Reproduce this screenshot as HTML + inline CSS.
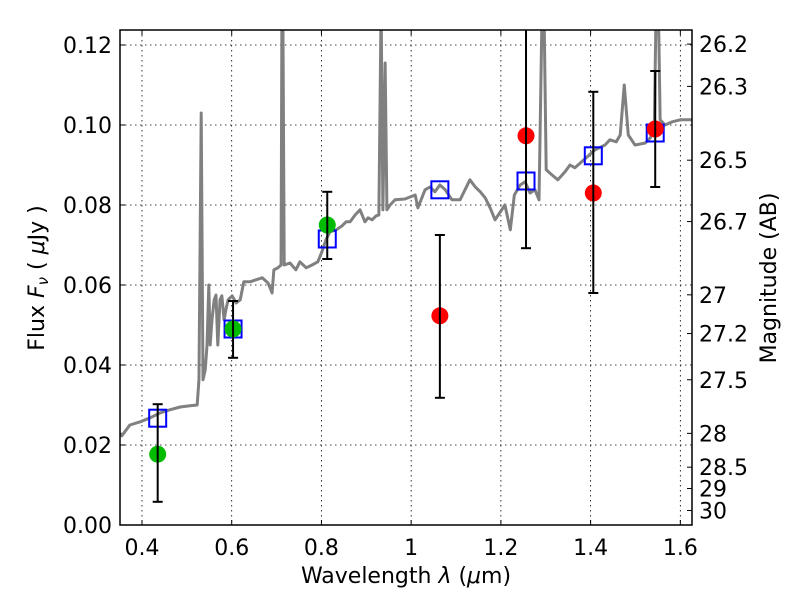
<!DOCTYPE html>
<html><head><meta charset="utf-8"><style>
body{margin:0;background:#fff;}
svg{display:block;font-family:"DejaVu Sans","Liberation Sans",sans-serif;}
</style></head><body>
<svg id="chart" width="800" height="600" viewBox="0 0 800 600">
<defs><clipPath id="clip"><rect x="120" y="30" width="572" height="495"/></clipPath></defs>
<rect x="0" y="0" width="800" height="600" fill="#fff"/>
<g id="grid"></g>
<g id="spec" clip-path="url(#clip)"></g>
<g id="marks" clip-path="url(#clip)"></g>
<rect x="120" y="30" width="572" height="495" fill="none" stroke="#000" stroke-width="1.5"/>
<g id="axes"></g>
<text x="406" y="583" font-size="22" text-anchor="middle">Wavelength  <tspan font-style="italic">λ</tspan> (<tspan font-style="italic">μ</tspan>m)</text>
<text transform="translate(44,278) rotate(-90)" font-size="22" text-anchor="middle">Flux  <tspan font-style="italic">F</tspan><tspan font-style="italic" font-size="15" dy="4">ν</tspan><tspan dy="-4">  ( </tspan><tspan font-style="italic">μ</tspan>Jy )</text>
<text transform="translate(776,278) rotate(-90)" font-size="22" text-anchor="middle">Magnitude (AB)</text>
</svg>
<script>
const specLam=[0.351,0.355,0.373,0.396,0.418,0.440,0.462,0.485,0.507,0.523,0.527,0.532,0.536,0.541,0.545,0.549,0.552,0.556,0.561,0.565,0.569,0.574,0.578,0.583,0.587,0.592,0.601,0.610,0.619,0.627,0.641,0.654,0.668,0.681,0.690,0.694,0.703,0.710,0.712,0.714,0.717,0.730,0.743,0.752,0.766,0.779,0.792,0.801,0.810,0.819,0.833,0.846,0.855,0.864,0.875,0.886,0.897,0.904,0.913,0.922,0.928,0.933,0.937,0.942,0.946,0.953,0.964,0.986,1.009,1.015,1.031,1.042,1.053,1.064,1.076,1.091,1.109,1.120,1.131,1.143,1.154,1.165,1.176,1.187,1.209,1.221,1.230,1.243,1.254,1.265,1.276,1.285,1.292,1.296,1.301,1.314,1.327,1.343,1.354,1.365,1.392,1.410,1.432,1.443,1.457,1.466,1.475,1.484,1.499,1.522,1.533,1.542,1.546,1.551,1.555,1.566,1.582,1.600,1.626];
const specFlux=[0.023,0.0223,0.025,0.0258,0.0268,0.028,0.0288,0.0295,0.0298,0.030,0.0363,0.103,0.0363,0.0388,0.045,0.060,0.045,0.0513,0.0563,0.0575,0.045,0.0563,0.0573,0.0513,0.0538,0.0563,0.0573,0.0555,0.0563,0.0608,0.0608,0.0613,0.0618,0.0605,0.058,0.0638,0.0643,0.065,0.13,0.13,0.065,0.0655,0.0638,0.0658,0.0643,0.065,0.0658,0.0683,0.0713,0.0733,0.0738,0.0748,0.0758,0.0758,0.0775,0.0788,0.0758,0.0768,0.0763,0.0773,0.0775,0.13,0.0788,0.1155,0.0788,0.080,0.0813,0.0815,0.0825,0.0793,0.0838,0.0845,0.0833,0.085,0.0838,0.0813,0.0813,0.0838,0.0863,0.0845,0.0833,0.0818,0.0793,0.0763,0.080,0.0738,0.0825,0.085,0.0858,0.083,0.0838,0.0813,0.13,0.13,0.0888,0.0875,0.0863,0.0883,0.090,0.0893,0.092,0.0938,0.095,0.0963,0.0958,0.0975,0.110,0.0975,0.095,0.0955,0.0968,0.0988,0.13,0.13,0.1013,0.100,0.1008,0.1013,0.1013];
const modelLam=[0.435,0.603,0.813,1.064,1.256,1.406,1.544];
const modelFlux=[0.0267,0.049,0.0715,0.0838,0.086,0.0923,0.098];
const obsLam=[0.435,0.603,0.813,1.064,1.256,1.406,1.544];
const obsFlux=[0.0177,0.049,0.075,0.0523,0.0973,0.083,0.099];
const obsLo=[0.0058,0.0418,0.0665,0.0318,0.0692,0.058,0.0845];
const obsHi=[0.0302,0.056,0.0833,0.0725,0.14,0.1083,0.1135];
const obsColor=['#00bb00','#00bb00','#00bb00','#ff0000','#ff0000','#ff0000','#ff0000'];
const xTicks=[0.4,0.6,0.8,1.0,1.2,1.4,1.6];
const xTickLabels=['0.4','0.6','0.8','1','1.2','1.4','1.6'];
const yTicks=[0,0.02,0.04,0.06,0.08,0.10,0.12];
const yTickLabels=['0.00','0.02','0.04','0.06','0.08','0.10','0.12'];
const magTicks=[26.2,26.3,26.5,26.7,27,27.2,27.5,28,28.5,29,30];
const magTickLabels=['26.2','26.3','26.5','26.7','27','27.2','27.5','28','28.5','29','30'];

const X0=120,X1=692,Y0=525,Y1=30,LMIN=0.351,LMAX=1.626,FMIN=0,FMAX=0.12375;
const sx=v=>X0+(v-LMIN)/(LMAX-LMIN)*(X1-X0);
const sy=v=>Y0-(v-FMIN)/(FMAX-FMIN)*(Y0-Y1);
const NS='http://www.w3.org/2000/svg';
function mk(parent,tag,attrs){const e=document.createElementNS(NS,tag);for(const k in attrs)e.setAttribute(k,attrs[k]);parent.appendChild(e);return e;}
const grid=document.getElementById('grid'),spec=document.getElementById('spec'),marks=document.getElementById('marks'),axes=document.getElementById('axes');

xTicks.forEach((t,i)=>{const x=sx(t);
 const g=mk(grid,'line',{x1:x,x2:x,y1:Y1,y2:Y0,stroke:'#000','stroke-width':0.8,'stroke-dasharray':'1.5,3.5'});
 
 
 const a=mk(axes,'line',{x1:x,x2:x,y1:Y0,y2:Y0-5,stroke:'#000','stroke-width':1});
 
 
 const b=mk(axes,'line',{x1:x,x2:x,y1:Y1,y2:Y1+5,stroke:'#000','stroke-width':1});
 
 
 const tx=mk(axes,'text',{x:x,y:555,'font-size':22,'text-anchor':'middle'});tx.textContent=xTickLabels[i];
 
 
});
yTicks.forEach((t,i)=>{const y=sy(t);
 if(t>0){const g=mk(grid,'line',{x1:X0,x2:X1,y1:y,y2:y,stroke:'#000','stroke-width':0.8,'stroke-dasharray':'1.5,3.5'});
 
 }
 const a=mk(axes,'line',{x1:X0,x2:X0+5,y1:y,y2:y,stroke:'#000','stroke-width':1});
 
 
 const tx=mk(axes,'text',{x:112,y:y+8,'font-size':22,'text-anchor':'end'});tx.textContent=yTickLabels[i];
 
 
});
magTicks.forEach((m,i)=>{const y=sy(Math.pow(10,(23.9-m)/2.5));
 const a=mk(axes,'line',{x1:X1,x2:X1-5,y1:y,y2:y,stroke:'#000','stroke-width':1});
 
 
 const tx=mk(axes,'text',{x:699,y:y+8,'font-size':22,'text-anchor':'start'});tx.textContent=magTickLabels[i];
 
 
});
const pl=mk(spec,'polyline',{points:specLam.map((l,i)=>sx(l)+','+sy(specFlux[i])).join(' '),fill:'none',stroke:'#808080','stroke-width':3,'stroke-linejoin':'round'});


modelLam.forEach((l,i)=>{const x=sx(l),y=sy(modelFlux[i]);
 const r=mk(marks,'rect',{x:x-8.5,y:y-8.5,width:17,height:17,fill:'none',stroke:'#0000ff','stroke-width':2});
 
 
});
obsLam.forEach((l,i)=>{const x=sx(l),y=sy(obsFlux[i]);
 const c=mk(marks,'circle',{cx:x,cy:y,r:8.5,fill:obsColor[i]});
 
 
 const e=mk(marks,'g',{stroke:'#000','stroke-width':2});
 
 
 const yl=sy(obsLo[i]),yh=sy(obsHi[i]);
 mk(e,'line',{x1:x,x2:x,y1:yl,y2:yh});
 mk(e,'line',{x1:x-5,x2:x+5,y1:yl,y2:yl});
 mk(e,'line',{x1:x-5,x2:x+5,y1:yh,y2:yh});
});
</script>
</body></html>
